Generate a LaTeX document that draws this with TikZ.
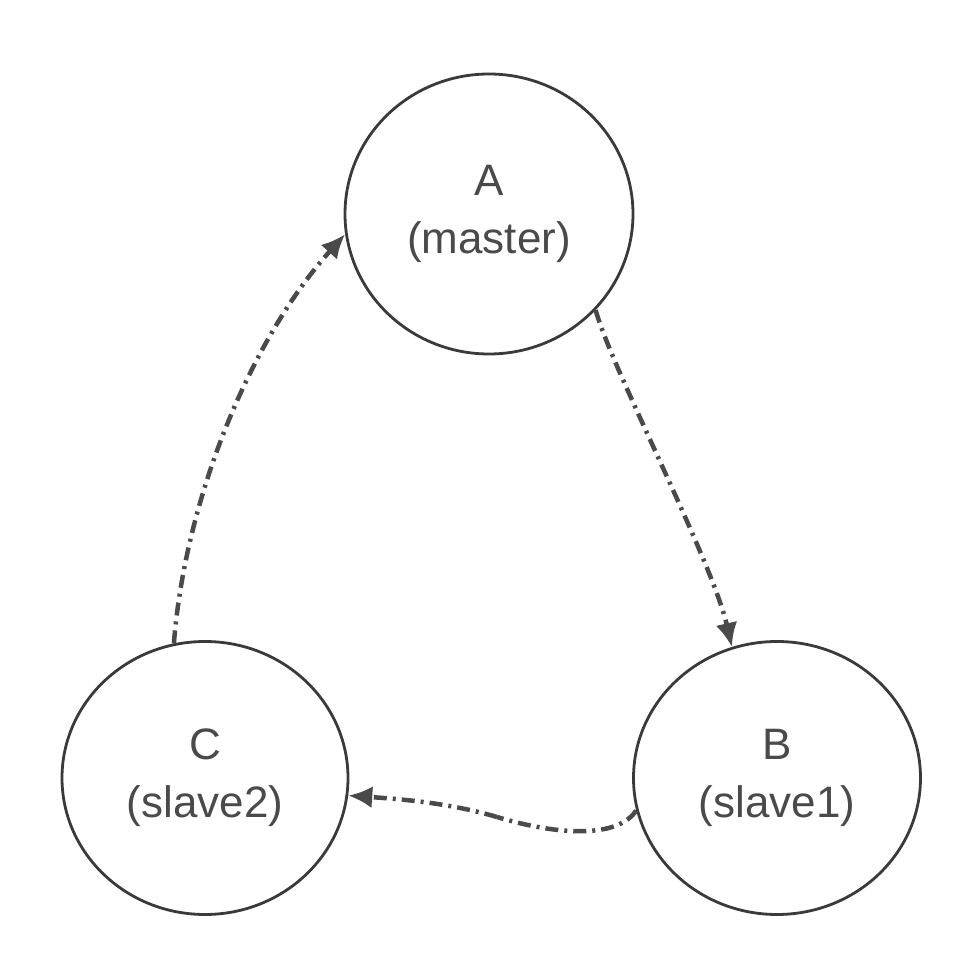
\documentclass[tikz,border=0pt]{standalone}
\usepackage{fontspec}
\setmainfont{Liberation Sans}
\usetikzlibrary{arrows.meta,shapes.geometric}
\definecolor{ringcol}{HTML}{3A3A3A}
\definecolor{txtcol}{HTML}{4A4A4A}
\definecolor{linkcol}{HTML}{4A4A4A}
\tikzset{
  station/.style={ellipse, draw=ringcol, line width=2.8pt, fill=white,
    text=txtcol, align=center, inner sep=0pt,
    font=\fontsize{44}{58}\selectfont},
  link/.style={draw=linkcol, line width=4.5pt,
    dash pattern=on 13pt off 6pt on 3pt off 6pt,
    -{Latex[length=24pt,width=22pt]}}
}
\begin{document}
\begin{tikzpicture}[x=1pt,y=-1pt]
\useasboundingbox (0,0) rectangle (978,965);
\node[station, minimum width=288pt, minimum height=280pt] (A) at (489,214) {A\\(master)};
\node[station, minimum width=287pt, minimum height=273pt] (B) at (777,778) {B\\(slave1)};
\node[station, minimum width=286pt, minimum height=273pt] (C) at (205,778) {C\\(slave2)};
\coordinate (m) at (497,817);
\draw[link] (A.-42) .. controls (610,365) and (712,560) .. (B.109);
\draw[link] (C.103) .. controls (185,500) and (250,340) .. (A.188);
\draw[link, -] (B.193) .. controls (618,838) and (560,836) .. (m);
\draw[link] (m) .. controls (450,803) and (400,799) .. (C.-7);
\end{tikzpicture}
\end{document}
